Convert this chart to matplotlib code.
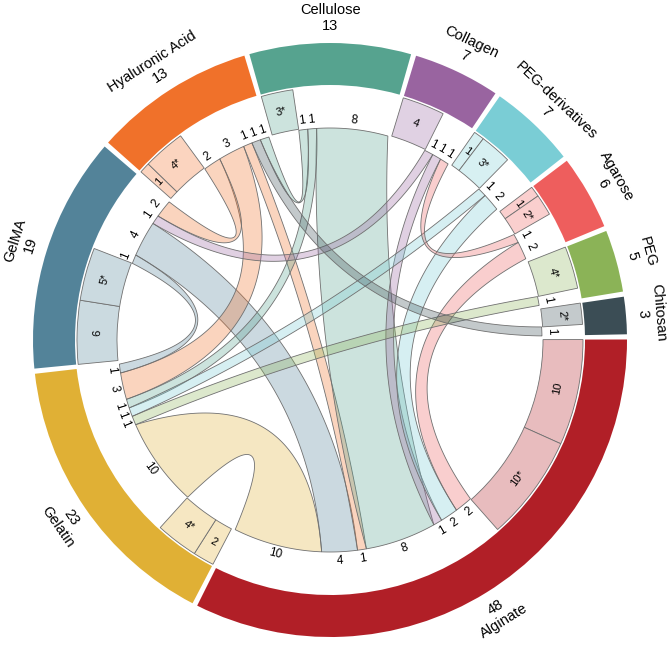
import numpy as np
import matplotlib.pyplot as plt
from matplotlib.patches import Wedge, Polygon
from matplotlib.colors import to_rgb

plt.rcParams['font.family'] = ['Liberation Sans', 'DejaVu Sans']

# materials, clockwise from 3 o'clock
categories = ['Alginate', 'Gelatin', 'GelMA', 'Hyaluronic Acid', 'Cellulose',
              'Collagen', 'PEG-derivatives', 'Agarose', 'PEG', 'Chitosan']
totals = [48, 23, 19, 13, 13, 7, 7, 6, 5, 3]
colors = ['#b11f27', '#e0b035', '#538399', '#f0712a', '#56a38f',
          '#9964a0', '#7acdd5', '#ee5e5d', '#8bb357', '#3b4d55']

# counts shown as boxes inside each sector (clockwise)
box_labels = [['10', '10*'], ['2', '4*'], ['6', '5*'], ['1', '4*'], ['3*'],
              ['4'], ['1', '3*'], ['1', '2*'], ['4*'], ['2*']]
box_values = [[10, 10], [2, 4], [6, 5], [1, 4], [3],
              [4], [1, 3], [1, 2], [4], [2]]

# combinations between two materials
link_from = ['Alginate', 'Alginate', 'Alginate', 'Alginate', 'Alginate', 'Alginate',
             'Alginate', 'Gelatin', 'Gelatin', 'Gelatin', 'Gelatin', 'Gelatin',
             'GelMA', 'GelMA', 'Hyaluronic Acid', 'Hyaluronic Acid', 'Collagen']
link_to = ['Gelatin', 'GelMA', 'Hyaluronic Acid', 'Cellulose', 'Collagen',
           'PEG-derivatives', 'Agarose', 'GelMA', 'Hyaluronic Acid', 'Cellulose',
           'PEG-derivatives', 'PEG', 'Hyaluronic Acid', 'Collagen', 'Cellulose',
           'Chitosan', 'Agarose']
link_values = [10, 4, 1, 8, 1, 2, 2, 1, 3, 1, 1, 1, 2, 1, 1, 1, 1]

# ---------------- layout ----------------
CX, CY = 330, 308
GAP = 1.0
START = 0.1
R_OUT, R_RING = 297, 255
R_BOX_OUT, R_BOX_IN = 253, 213
R_CHORD = 212
EDGE = '#707070'

n = len(categories)
unit = (360 - GAP * n) / sum(totals)


def ang(s):
    # clockwise offset -> math angle
    return START - s


def light(c, a=0.3):
    r, g, b = to_rgb(c)
    return (1 - a + a * r, 1 - a + a * g, 1 - a + a * b)


def rot(theta):
    a = theta % 360
    return a - 90 if a < 180 else a + 90


def polar(theta, r=R_CHORD):
    t = np.radians(theta)
    return np.array([CX + r * np.cos(t), CY + r * np.sin(t)])


def arc(t1, t2, r=R_CHORD, num=40):
    ts = np.radians(np.linspace(t1, t2, num))
    return np.column_stack([CX + r * np.cos(ts), CY + r * np.sin(ts)])


def bez(p0, p2, u, depth, num=80):
    # quadratic curve whose middle sits `depth` below the chord p0-p2 (towards centre)
    ctrl = (p0 + p2) / 2 - 2 * depth * u
    t = np.linspace(0, 1, num)[:, None]
    return (1 - t) ** 2 * p0 + 2 * (1 - t) * t * ctrl + t ** 2 * p2


fig = plt.figure(figsize=(6.69, 6.48), dpi=100)
ax = fig.add_axes([0, 0, 1, 1])
ax.set_xlim(0, 669)
ax.set_ylim(0, 648)
ax.axis('off')

idx = {c: i for i, c in enumerate(categories)}
la = [idx[c] for c in link_from]
lb = [idx[c] for c in link_to]

sector_start = []
s = 0
for t in totals:
    sector_start.append(s)
    s += t * unit + GAP

ends = {}
for i in range(n):
    s0 = sector_start[i]
    # outer ring + name
    ax.add_patch(Wedge((CX, CY), R_OUT, ang(s0 + totals[i] * unit), ang(s0),
                       width=R_OUT - R_RING, fc=colors[i], ec='none'))
    mid = ang(s0 + totals[i] * unit / 2)
    x, y = polar(mid, 314)
    ax.text(x, y, str(totals[i]), rotation=rot(mid), rotation_mode='anchor',
            ha='center', va='center', fontsize=10.5)
    x, y = polar(mid, 330)
    ax.text(x, y, categories[i], rotation=rot(mid), rotation_mode='anchor',
            ha='center', va='center', fontsize=10.5)

    # boxes
    s = s0
    for lab, v in zip(box_labels[i], box_values[i]):
        w = v * unit
        ax.add_patch(Wedge((CX, CY), R_BOX_OUT, ang(s + w), ang(s),
                           width=R_BOX_OUT - R_BOX_IN, fc=light(colors[i]),
                           ec=EDGE, lw=0.6))
        m = ang(s + w / 2)
        x, y = polar(m, (R_BOX_OUT + R_BOX_IN) / 2)
        ax.text(x, y, lab, rotation=rot(m), rotation_mode='anchor',
                ha='center', va='center', fontsize=8)
        s += w

    # chord ends
    items = []
    for k in range(len(link_values)):
        if la[k] == i:
            items.append((k, lb[k]))
        elif lb[k] == i:
            items.append((k, la[k]))
    items.sort(key=lambda it: -((it[1] - i) % n))
    for k, j in items:
        w = link_values[k] * unit
        ends[(k, i)] = (ang(s + w), ang(s))
        m = ang(s + w / 2)
        x, y = polar(m, 221)
        ax.text(x, y, str(link_values[k]), rotation=rot(m), rotation_mode='anchor',
                ha='center', va='center', fontsize=8.5)
        s += w

# ribbons
for k in range(len(link_values)):
    a_lo, a_hi = ends[(k, la[k])]
    b_lo, b_hi = ends[(k, lb[k])]
    va = polar((a_lo + a_hi) / 2, 1) - [CX, CY]
    vb = polar((b_lo + b_hi) / 2, 1) - [CX, CY]
    u = (va + vb) / np.linalg.norm(va + vb)
    m_mid = R_CHORD * np.linalg.norm(va + vb) / 2
    depth = float(np.interp(m_mid, [40, 150], [12, 70]))
    pts = np.vstack([arc(a_lo, a_hi), bez(polar(a_hi), polar(b_lo), u, depth),
                     arc(b_lo, b_hi), bez(polar(b_hi), polar(a_lo), u, depth)])
    col = colors[max(la[k], lb[k])]
    ax.add_patch(Polygon(pts, closed=True, fc=to_rgb(col) + (0.3,),
                         ec=EDGE, lw=0.6))

fig.savefig('out.png', dpi=100)
